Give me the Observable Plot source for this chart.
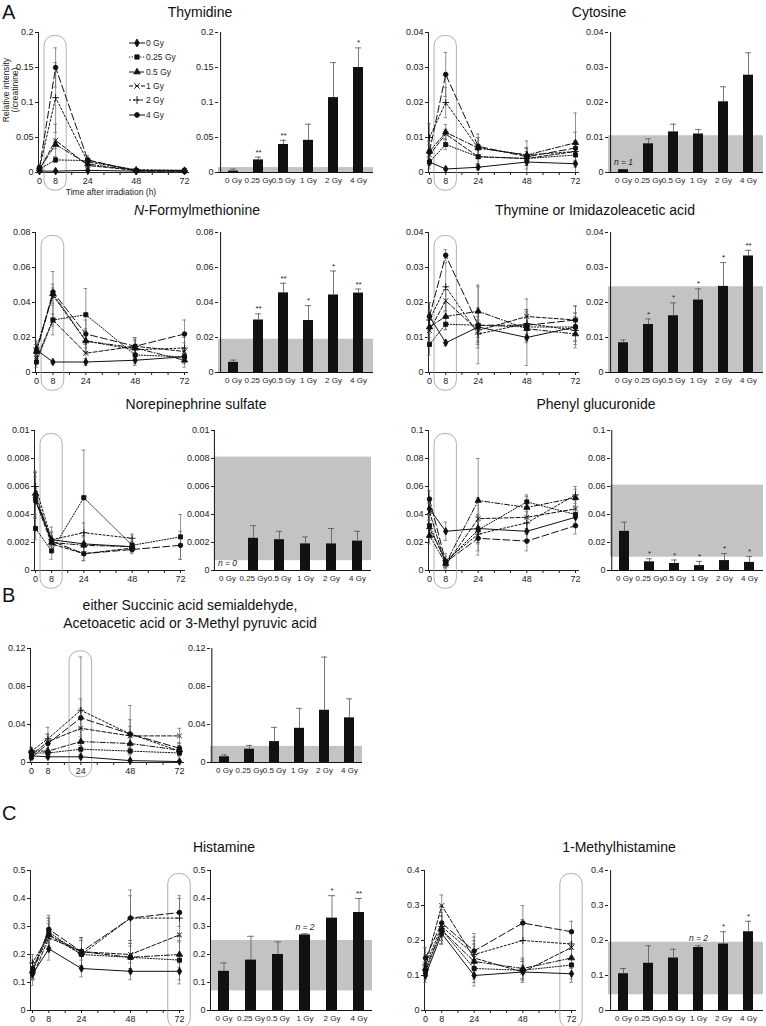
<!DOCTYPE html>
<html><head><meta charset="utf-8">
<script src="https://cdn.jsdelivr.net/npm/d3@7"></script>
<script src="https://cdn.jsdelivr.net/npm/@observablehq/plot@0.6"></script>
<style>
body{margin:0;background:#fff;font-family:"Liberation Sans",Arial,sans-serif;color:#111}
#fig{position:relative;width:766px;height:1026px;overflow:hidden;background:#fff}
#fig svg{position:absolute}
.title{position:absolute;font-size:14px;transform:translate(-50%,-50%);white-space:nowrap}
.panel{position:absolute;font-size:20px;line-height:20px}
.small{position:absolute;font-size:8.5px;white-space:nowrap;color:#222}
</style></head><body><div id="fig"></div>
<script>
// ---------- data ----------
const doses = ["0 Gy","0.25 Gy","0.5 Gy","1 Gy","2 Gy","4 Gy"];
const times = [0, 8, 24, 48, 72];
const timeTickLabels = [0, 8, 24, 48, 72];

// Thymidine
const thymidineMeans = [[0.002,0.002,0.003,0.002,0.002],[0.005,0.018,0.017,0.003,0.002],[0.005,0.040,0.012,0.003,0.003],[0.004,0.046,0.010,0.003,0.003],[0.006,0.107,0.015,0.004,0.003],[0.007,0.150,0.018,0.002,0.002]];
const thymidineErrs = [[0.001,0.001,0.001,0.001,0.001],[0.002,0.004,0.004,0.001,0.001],[0.002,0.006,0.004,0.001,0.001],[0.002,0.023,0.005,0.001,0.001],[0.003,0.050,0.005,0.001,0.001],[0.003,0.028,0.006,0.001,0.001]];
const thymidineBars = [0.002,0.018,0.040,0.046,0.107,0.150];
const thymidineBarErr = [0.003,0.004,0.006,0.023,0.050,0.028];
const thymidineStars = ["","**","**","","","*"];
const thymidineBand = [0,0.007];
const thymidineTicks = [0,0.05,0.1,0.15,0.2];

// Cytosine
const cytosineMeans = [[0.003,0.001,0.0015,0.003,0.0025],[0.003,0.008,0.0045,0.004,0.005],[0.006,0.0115,0.007,0.005,0.0085],[0.005,0.011,0.0045,0.004,0.006],[0.010,0.020,0.007,0.005,0.006],[0.006,0.028,0.0075,0.0045,0.007]];
const cytosineErrs = [[0.001,0.0003,0.0008,0.001,0.001],[0.002,0.0014,0.002,0.002,0.002],[0.003,0.0022,0.003,0.002,0.003],[0.003,0.0013,0.002,0.003,0.003],[0.004,0.0043,0.003,0.002,0.003],[0.003,0.0063,0.0035,0.0045,0.010]];
const cytosineBars = [0.0008,0.0082,0.0116,0.011,0.0202,0.0278];
const cytosineBarErr = [0,0.0014,0.0022,0.0013,0.0043,0.0064];
const cytosineStars = ["","","","","",""];
const cytosineBand = [0,0.0105];
const cytosineTicks = [0,0.01,0.02,0.03,0.04];

// N-Formylmethionine
const nfmMeans = [[0.013,0.006,0.006,0.007,0.009],[0.006,0.030,0.033,0.010,0.009],[0.012,0.045,0.018,0.014,0.007],[0.008,0.030,0.011,0.015,0.012],[0.014,0.044,0.018,0.013,0.014],[0.012,0.046,0.022,0.015,0.022]];
const nfmErrs = [[0.003,0.001,0.002,0.003,0.003],[0.003,0.0035,0.015,0.005,0.004],[0.004,0.0055,0.006,0.005,0.004],[0.003,0.0085,0.005,0.005,0.005],[0.004,0.0137,0.007,0.005,0.006],[0.004,0.0023,0.008,0.005,0.008]];
const nfmBars = [0.0058,0.030,0.0455,0.0297,0.0443,0.0454];
const nfmBarErr = [0.0013,0.0035,0.0055,0.0085,0.0137,0.0023];
const nfmStars = ["","**","**","*","*","**"];
const nfmBand = [0,0.019];
const nfmTicks = [0,0.02,0.04,0.06,0.08];

// Thymine or Imidazoleacetic acid
const thymineMeans = [[0.016,0.0085,0.013,0.010,0.013],[0.008,0.0138,0.0135,0.013,0.013],[0.013,0.016,0.0175,0.0125,0.011],[0.012,0.0205,0.012,0.016,0.015],[0.015,0.0245,0.011,0.014,0.012],[0.016,0.0335,0.0135,0.0135,0.015]];
const thymineErrs = [[0.004,0.0008,0.004,0.008,0.004],[0.003,0.0016,0.011,0.004,0.004],[0.004,0.0037,0.0075,0.004,0.004],[0.004,0.0032,0.004,0.005,0.004],[0.005,0.0068,0.004,0.004,0.004],[0.004,0.0016,0.005,0.004,0.004]];
const thymineBars = [0.0085,0.0137,0.0162,0.0207,0.0246,0.0333];
const thymineBarErr = [0.0008,0.0016,0.0037,0.0032,0.0068,0.0016];
const thymineStars = ["","*","*","*","*","**"];
const thymineBand = [0,0.0245];
const thymineTicks = [0,0.01,0.02,0.03,0.04];

// Norepinephrine sulfate
const norepiMeans = [[0.0050,0.0022,0.0019,0.0017,null],[0.0030,0.0014,0.0052,0.0018,0.0024],[0.0055,0.0020,0.0018,0.0017,null],[0.0050,0.0019,0.0012,0.0016,null],[0.0060,0.0022,0.0027,0.0023,null],[0.0052,0.0021,0.0012,0.0015,0.0018]];
const norepiErrs = [[0.0020,0.0005,0.0006,0.0003,0],[0.0008,0.0006,0.0034,0.0003,0.0016],[0.0015,0.0005,0.0006,0.0003,0],[0.0012,0.0006,0.0005,0.0003,0],[0.0011,0.0009,0.0007,0.0003,0],[0.0015,0.0007,0.0005,0.0003,0.0010]];
const norepiBars = [null,0.0023,0.0022,0.0019,0.0019,0.0021];
const norepiBarErr = [0,0.0009,0.0006,0.0005,0.0011,0.0007];
const norepiStars = ["","","","","",""];
const norepiBand = [0.0007,0.0081];
const norepiTicks = [0,0.002,0.004,0.006,0.008,0.01];

// Phenyl glucuronide
const phenylMeans = [[0.044,0.028,0.030,0.028,0.038],[0.032,0.006,0.029,0.049,0.040],[0.025,0.005,0.050,0.045,0.052],[0.042,0.004,0.037,0.038,0.044],[0.030,0.007,0.026,0.034,0.054],[0.051,0.006,0.023,0.021,0.032]];
const phenylErrs = [[0.005,0.0065,0.010,0.006,0.006],[0.008,0.0022,0.010,0.005,0.006],[0.006,0.0025,0.030,0.008,0.006],[0.006,0.003,0.015,0.008,0.006],[0.006,0.005,0.012,0.008,0.006],[0.006,0.0042,0.012,0.007,0.006]];
const phenylBars = [0.028,0.0062,0.005,0.0035,0.0071,0.0058];
const phenylBarErr = [0.0065,0.0022,0.0025,0.003,0.005,0.0042];
const phenylStars = ["","*","*","*","*","*"];
const phenylBand = [0.0095,0.061];
const phenylTicks = [0,0.02,0.04,0.06,0.08,0.1];

// Succinic acid semialdehyde / Acetoacetic acid / 3-Methyl pyruvic acid
const succMeans = [[0.007,0.006,0.006,0.002,0.001],[0.010,0.010,0.014,0.012,0.010],[0.012,0.012,0.022,0.020,0.013],[0.008,0.022,0.036,0.028,0.028],[0.012,0.025,0.055,0.030,0.012],[0.005,0.020,0.047,0.030,0.015]];
const succErrs = [[0.003,0.002,0.002,0.001,0.001],[0.004,0.005,0.004,0.004,0.003],[0.004,0.006,0.015,0.008,0.005],[0.004,0.008,0.021,0.010,0.008],[0.004,0.012,0.056,0.030,0.006],[0.003,0.010,0.020,0.015,0.006]];
const succBars = [0.006,0.014,0.022,0.036,0.055,0.047];
const succBarErr = [0.002,0.004,0.015,0.021,0.056,0.020];
const succStars = ["","","","","",""];
const succBand = [0,0.017];
const succTicks = [0,0.04,0.08,0.12];

// Histamine
const histMeans = [[0.13,0.22,0.15,0.14,0.14],[0.15,0.28,0.20,0.19,0.18],[0.14,0.27,0.21,0.19,0.20],[0.12,0.26,0.21,0.20,0.27],[0.17,0.27,0.20,0.33,0.33],[0.14,0.29,0.21,0.33,0.35]];
const histErrs = [[0.02,0.04,0.03,0.03,0.03],[0.03,0.05,0.05,0.05,0.085],[0.03,0.05,0.05,0.05,0.045],[0.03,0.05,0.05,0.05,0.004],[0.03,0.06,0.05,0.10,0.08],[0.03,0.05,0.05,0.08,0.05]];
const histBars = [0.14,0.18,0.20,0.27,0.33,0.35];
const histBarErr = [0.03,0.085,0.045,0.004,0.08,0.05];
const histStars = ["","","","","*","**"];
const histBand = [0.07,0.25];
const histTicks = [0,0.1,0.2,0.3,0.4,0.5];

// 1-Methylhistamine
const mhMeans = [[0.10,0.22,0.10,0.11,0.105],[0.11,0.23,0.12,0.115,0.13],[0.12,0.23,0.14,0.12,0.15],[0.13,0.30,0.15,0.11,0.18],[0.13,0.24,0.16,0.20,0.19],[0.15,0.25,0.17,0.25,0.225]];
const mhErrs = [[0.02,0.03,0.02,0.02,0.015],[0.02,0.04,0.05,0.03,0.05],[0.02,0.04,0.05,0.03,0.025],[0.02,0.03,0.05,0.03,0.005],[0.03,0.04,0.05,0.06,0.035],[0.03,0.05,0.05,0.05,0.03]];
const mhBars = [0.105,0.135,0.15,0.18,0.19,0.225];
const mhBarErr = [0.015,0.05,0.025,0.005,0.035,0.03];
const mhStars = ["","","","","*","*"];
const mhBand = [0.045,0.195];
const mhTicks = [0,0.1,0.2,0.3,0.4];

// ---------- styling / layout ----------
const FONT = "Liberation Sans, Arial, sans-serif";
const dashes = [null,"1.2,1.6","5,2,1,2","4,2","2,2","7,3"];
const symbols = ["diamond","square","triangle","times","plus","circle"];
const fig = document.getElementById("fig");
const fmt = d => String(+(+d).toFixed(6));

function lineChart(c, L) {
  const ML=40, MR=4, MT=14, MB=26;
  const s=(L.x72-L.x0)/72;
  const dL=-(L.x0-L.axis)/s, dR=72+(L.end-L.x72)/s;
  const w=ML+(L.end-L.axis)+MR, h=MT+(L.bottom-L.top)+MB;
  const yMax=c.ticks[c.ticks.length-1];
  const pts=[];
  doses.forEach((dose,i)=>times.forEach((t,j)=>{const v=c.means[i][j]; if(v!=null) pts.push({dose,i,t,v,e:c.errs[i][j]});}));
  const ep=pts.filter(p=>p.e>0);
  const marks=[
    Plot.rect([c.hl],{x1:d=>d-5.5,x2:d=>d+5.5,y1:-0.13*yMax,y2:0.975*yMax,rx:10,fill:"none",stroke:"#9a9a9a",strokeWidth:0.8}),
    Plot.ruleX(ep,{x:"t",y1:d=>Math.max(0,d.v-d.e),y2:d=>d.v+d.e,stroke:"#666",strokeWidth:0.7}),
    Plot.ruleY(ep,{y:d=>d.v+d.e,x1:d=>d.t-0.9,x2:d=>d.t+0.9,stroke:"#666",strokeWidth:0.7}),
    Plot.ruleY(ep.filter(d=>d.v-d.e>0),{y:d=>d.v-d.e,x1:d=>d.t-0.9,x2:d=>d.t+0.9,stroke:"#666",strokeWidth:0.7})
  ];
  doses.forEach((dose,i)=>marks.push(Plot.line(pts.filter(p=>p.i===i),{x:"t",y:"v",stroke:"#111",strokeWidth:1,strokeDasharray:dashes[i]||undefined})));
  marks.push(Plot.dot(pts,{x:"t",y:"v",symbol:"dose",fill:"#111",stroke:"#111",strokeWidth:0.9,r:2.3}));
  const svg=Plot.plot({width:w,height:h,marginLeft:ML,marginRight:MR,marginTop:MT,marginBottom:MB,
    style:{fontFamily:FONT,fontSize:"9px",color:"#222",background:"transparent",overflow:"visible"},
    x:{domain:[dL,dR],ticks:d3.range(0,73,8),tickFormat:d=>timeTickLabels.includes(d)?String(d):"",tickSize:3,tickPadding:2,line:true,label:null},
    y:{domain:[0,yMax],ticks:c.ticks,tickFormat:fmt,tickSize:3,tickPadding:2,line:true,label:null},
    symbol:{domain:doses,range:symbols},
    marks});
  svg.style.left=(L.axis-ML)+"px"; svg.style.top=(L.top-MT)+"px";
  fig.appendChild(svg);
}

function barChart(c, B) {
  const ML=40, MR=2, MT=14, MB=26;
  const w=ML+(B.end-B.axis)+MR, h=MT+(B.bottom-B.top)+MB;
  const yMax=c.ticks[c.ticks.length-1];
  const data=doses.map((dose,i)=>({dose,i,v:c.bars[i],e:c.barErr[i],star:c.stars[i]}));
  const has=data.filter(d=>d.v!=null);
  const ee=has.filter(d=>d.e>0);
  const marks=[
    Plot.rect([c.band],{y1:d=>d[0],y2:d=>d[1],fill:"#c3c3c3"}),
    Plot.barY(has,{x:"dose",y:"v",fill:"#111"}),
    Plot.ruleX(ee,{x:"dose",y1:"v",y2:d=>d.v+d.e,stroke:"#555",strokeWidth:0.8}),
    Plot.tickY(ee,{x:"dose",y:d=>d.v+d.e,stroke:"#555",strokeWidth:0.8,inset:2}),
    Plot.text(has.filter(d=>d.star),{x:"dose",y:d=>d.v+d.e,text:"star",dy:-5,fontSize:8,fill:"#222"})
  ];
  if (c.note) {
    const n=data[c.note.i];
    marks.push(Plot.text([n],{x:"dose",y:d=>(d.v||0)+(d.e||0),text:()=>c.note.text,dy:-7,fontSize:8.5,fontStyle:"italic",fill:"#222"}));
  }
  marks.push(Plot.axisX({tickSize:0,tickPadding:5,fontSize:8,label:null}));
  marks.push(Plot.axisY({ticks:c.ticks,tickFormat:fmt,tickSize:3,tickPadding:2,label:null}));
  marks.push(Plot.ruleY([0],{stroke:"#111",strokeWidth:1}));
  marks.push(Plot.ruleX([doses[0]],{dx:-(B.end-B.axis)/12,stroke:"#111",strokeWidth:1,y1:0,y2:yMax}));
  const svg=Plot.plot({width:w,height:h,marginLeft:ML,marginRight:MR,marginTop:MT,marginBottom:MB,
    style:{fontFamily:FONT,fontSize:"9px",color:"#222",background:"transparent",overflow:"visible"},
    x:{domain:doses,paddingInner:0.6,paddingOuter:0.3,label:null},
    y:{domain:[0,yMax],label:null},
    marks});
  svg.style.left=(B.axis-ML)+"px"; svg.style.top=(B.top-MT)+"px";
  fig.appendChild(svg);
}

function addDiv(cls, html, x, y, extra) {
  const d=document.createElement("div"); d.className=cls; d.innerHTML=html;
  d.style.left=x+"px"; d.style.top=y+"px"; if(extra) Object.assign(d.style,extra);
  fig.appendChild(d); return d;
}

const charts = [
  {title:"Thymidine",tx:200,ty:12,means:thymidineMeans,errs:thymidineErrs,bars:thymidineBars,barErr:thymidineBarErr,stars:thymidineStars,band:thymidineBand,ticks:thymidineTicks,hl:8,
   L:{axis:38,x0:39,x72:184,end:188,top:32,bottom:172},B:{axis:218,end:373,top:32,bottom:172}},
  {title:"Cytosine",tx:599,ty:12,means:cytosineMeans,errs:cytosineErrs,bars:cytosineBars,barErr:cytosineBarErr,stars:cytosineStars,band:cytosineBand,ticks:cytosineTicks,hl:8,note:{i:0,text:"n = 1"},
   L:{axis:428,x0:429,x72:575,end:578,top:32,bottom:172},B:{axis:608,end:763,top:32,bottom:172}},
  {title:"<i>N</i>-Formylmethionine",tx:197,ty:210,means:nfmMeans,errs:nfmErrs,bars:nfmBars,barErr:nfmBarErr,stars:nfmStars,band:nfmBand,ticks:nfmTicks,hl:8,
   L:{axis:35,x0:36,x72:184,end:187,top:232,bottom:372},B:{axis:218,end:373,top:232,bottom:372}},
  {title:"Thymine or Imidazoleacetic acid",tx:595,ty:210,means:thymineMeans,errs:thymineErrs,bars:thymineBars,barErr:thymineBarErr,stars:thymineStars,band:thymineBand,ticks:thymineTicks,hl:8,
   L:{axis:428,x0:429,x72:575,end:578,top:232,bottom:372},B:{axis:608,end:763,top:232,bottom:372}},
  {title:"Norepinephrine sulfate",tx:196,ty:404,means:norepiMeans,errs:norepiErrs,bars:norepiBars,barErr:norepiBarErr,stars:norepiStars,band:norepiBand,ticks:norepiTicks,hl:8,note:{i:0,text:"n = 0"},
   L:{axis:34,x0:35,x72:180,end:184,top:430,bottom:570},B:{axis:214,end:371,top:430,bottom:570}},
  {title:"Phenyl glucuronide",tx:596,ty:404,means:phenylMeans,errs:phenylErrs,bars:phenylBars,barErr:phenylBarErr,stars:phenylStars,band:phenylBand,ticks:phenylTicks,hl:8,
   L:{axis:428,x0:429,x72:575,end:578,top:430,bottom:570},B:{axis:610,end:763,top:430,bottom:570}},
  {title:null,means:succMeans,errs:succErrs,bars:succBars,barErr:succBarErr,stars:succStars,band:succBand,ticks:succTicks,hl:24,
   L:{axis:30,x0:31,x72:179,end:183,top:648,bottom:762},B:{axis:210,end:362,top:648,bottom:762}},
  {title:"Histamine",tx:224,ty:847,means:histMeans,errs:histErrs,bars:histBars,barErr:histBarErr,stars:histStars,band:histBand,ticks:histTicks,hl:72,note:{i:3,text:"n = 2"},
   L:{axis:30,x0:32,x72:179,end:183,top:870,bottom:1010},B:{axis:210,end:372,top:870,bottom:1010}},
  {title:"1-Methylhistamine",tx:619,ty:847,means:mhMeans,errs:mhErrs,bars:mhBars,barErr:mhBarErr,stars:mhStars,band:mhBand,ticks:mhTicks,hl:72,note:{i:3,text:"n = 2"},
   L:{axis:424,x0:425,x72:571,end:575,top:870,bottom:1010},B:{axis:608,end:763,top:870,bottom:1010}}
];

charts.forEach(c=>{ lineChart(c,c.L); barChart(c,c.B); if(c.title) addDiv("title",c.title,c.tx,c.ty); });

addDiv("title","either Succinic acid semialdehyde,",190,605);
addDiv("title","Acetoacetic acid or 3-Methyl pyruvic acid",190,623);

addDiv("panel","A",2,2);
addDiv("panel","B",2,585);
addDiv("panel","C",2,803);

// axis titles of the first chart
addDiv("small","Time after irradiation (h)",111,192,{transform:"translate(-50%,-50%)"});
addDiv("small","Relative intensity<br>(/creatinine)",11,90,{transform:"translate(-50%,-50%) rotate(-90deg)",textAlign:"center",lineHeight:"9px"});

// legend
const leg=document.createElement("div");
leg.style.position="absolute"; leg.style.left="129px"; leg.style.top="36px";
fig.appendChild(leg);
const symTypes=[d3.symbolDiamond,d3.symbolSquare,d3.symbolTriangle,d3.symbolTimes,d3.symbolPlus,d3.symbolCircle];
doses.forEach((dose,i)=>{
  const row=document.createElement("div");
  row.style.cssText="position:relative;height:14.3px;display:flex;align-items:center;font-size:8.5px;color:#222;white-space:nowrap";
  const s=d3.create("svg").attr("width",16).attr("height",10).style("position","static").style("margin-right",1);
  s.append("line").attr("x1",0).attr("x2",16).attr("y1",5).attr("y2",5).attr("stroke","#111").attr("stroke-width",1).attr("stroke-dasharray",dashes[i]||null);
  const filled = i!==3 && i!==4;
  s.append("path").attr("d",d3.symbol(symTypes[i],filled?18:22)()).attr("transform","translate(8,5)")
    .attr("fill",filled?"#111":"none").attr("stroke","#111").attr("stroke-width",0.9);
  row.appendChild(s.node());
  const t=document.createElement("span"); t.textContent=dose; row.appendChild(t);
  leg.appendChild(row);
});
</script></body></html>
